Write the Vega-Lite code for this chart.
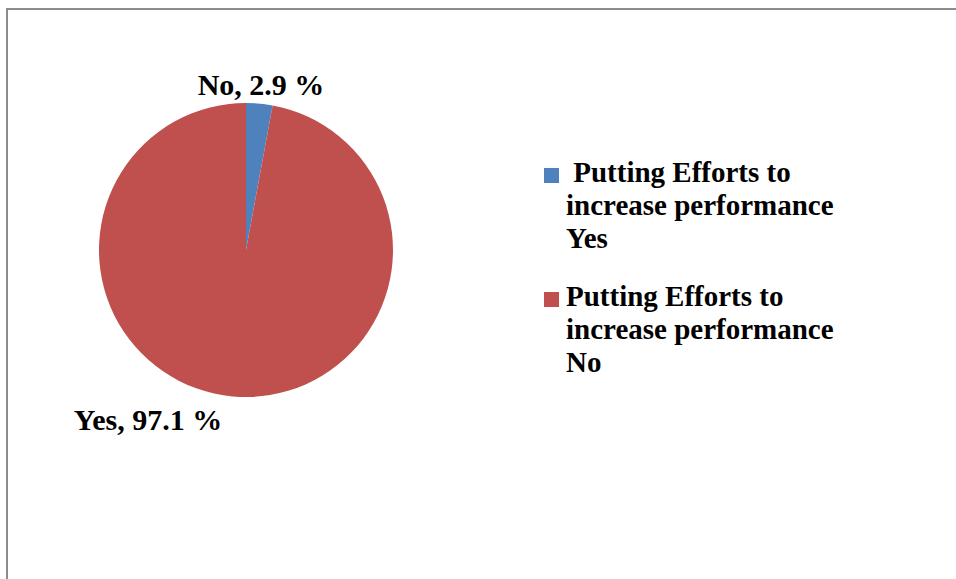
{
  "$schema": "https://vega.github.io/schema/vega-lite/v6.json",
  "width": 949,
  "height": 570,
  "autosize": "none",
  "padding": {"left": 7, "top": 9, "right": 0, "bottom": 0},
  "background": "white",
  "view": {"stroke": "#8c8c8c", "strokeWidth": 2, "strokeDash": [949, 1519, 571, 1]},
  "data": {"values": [
    {"series": " Putting Efforts to increase performance Yes", "answer": "No", "percent": 2.9},
    {"series": "Putting Efforts to increase performance No", "answer": "Yes", "percent": 97.1}
  ]},
  "transform": [{"calculate": "datum.answer + ', ' + format(datum.percent, '.1f') + ' %'", "as": "lbl"}],
  "encoding": {
    "theta": {"field": "percent", "type": "quantitative", "stack": true},
    "detail": {"field": "series", "type": "nominal"}
  },
  "layer": [
    {
      "mark": {"type": "arc", "x": 239, "y": 241, "outerRadius": 147},
      "encoding": {
        "color": {
          "field": "series", "type": "nominal",
          "scale": {"domain": [" Putting Efforts to increase performance Yes", "Putting Efforts to increase performance No"], "range": ["#4F81BD", "#C0504D"]},
          "legend": {
            "orient": "none", "legendX": 530, "legendY": 152, "title": null,
            "direction": "vertical",
            "symbolType": "square", "symbolSize": 225, "symbolStrokeWidth": 0,
            "labelFont": "Liberation Serif", "labelFontWeight": "bold", "labelFontSize": 29,
            "labelColor": "black", "labelLimit": 500, "labelOffset": 0, "rowPadding": 28,
            "labelBaseline": "top",
            "labelExpr": "datum.label == 'Putting Efforts to increase performance No' ? ['Putting Efforts to', 'increase performance', 'No'] : ['\u200b\u00a0Putting Efforts to', 'increase performance', 'Yes']",
            "encode": {"labels": {"update": {
              "lineHeight": {"value": 33},
              "dy": {"value": -17}
            }}}
          }
        }
      }
    },
    {
      "mark": {"type": "text", "x": 239, "y": 241, "radius": 165, "font": "Liberation Serif", "fontWeight": "bold", "fontSize": 30, "color": "black"},
      "encoding": {
        "text": {"condition": {"test": "datum.answer == 'No'", "field": "lbl"}, "value": ""}
      }
    },
    {
      "mark": {"type": "text", "x": 239, "y": 241, "radius": 165, "dx": -83, "dy": 7, "font": "Liberation Serif", "fontWeight": "bold", "fontSize": 30, "color": "black"},
      "encoding": {
        "text": {"condition": {"test": "datum.answer == 'Yes'", "field": "lbl"}, "value": ""}
      }
    }
  ]
}
